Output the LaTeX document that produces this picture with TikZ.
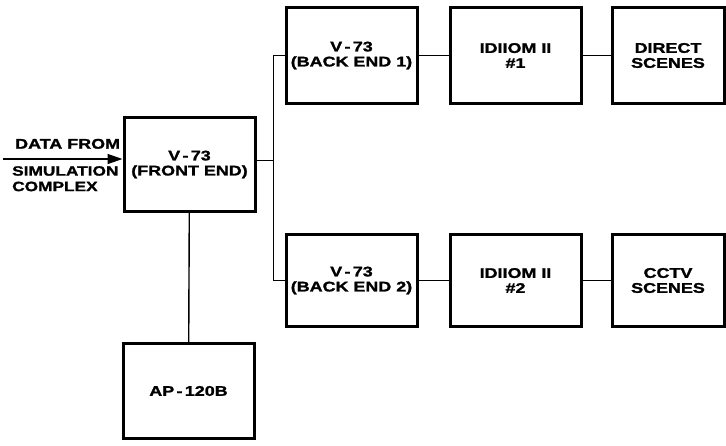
\documentclass[tikz,border=0pt]{standalone}
\usepackage{fontspec}
\setmainfont{Liberation Sans}[FakeStretch=1.28,FakeBold=1.5]
\usetikzlibrary{positioning,arrows.meta}

\begin{document}
\begin{tikzpicture}[
  x=1pt, y=-1pt,
  font=\bfseries\fontsize{14}{15}\selectfont,
  node distance=30pt,
  box/.style={draw, line width=3pt, align=center, minimum width=131pt,
              minimum height=95pt, inner sep=2pt},
  wide/.style={box, minimum width=112pt},
  line/.style={line width=1.4pt},
  arr/.style={-{Triangle[length=15pt,width=10pt]}, line width=1.4pt},
  lbl/.style={align=left, inner sep=0pt}
]
\useasboundingbox (0,0) rectangle (726,445);
\node[box, minimum height=94pt] (front) at (189.5,164.5) {V\,-\,73\\(FRONT END)};
\node[box] (ap) at (188.5,391) {AP\,-\,120B};

\node[box, minimum height=96pt] (back1) at (351.5,55.5) {V\,-\,73\\(BACK END 1)};
\node[box, minimum height=96pt, right=of back1] (idiiom1) {IDIIOM II\\\#1};
\node[wide, minimum height=96pt, right=28pt of idiiom1] (direct) {DIRECT\\SCENES};

\node[box, minimum height=92pt] (back2) at (351.5,280.5) {V\,-\,73\\(BACK END 2)};
\node[box, minimum height=92pt, right=of back2] (idiiom2) {IDIIOM II\\\#2};
\node[wide, minimum height=92pt, right=28pt of idiiom2] (cctv) {CCTV\\SCENES};

% links
\coordinate (split) at ([xshift=17pt,yshift=4pt]front.east);
\draw[line] ([yshift=4pt]front.east) -- (split);
\draw[line] (split) |- (back1.west);
\draw[line] (split) |- (back2.west);
\draw[line] (back1) -- (idiiom1);
\draw[line] (idiiom1) -- (direct);
\draw[line] (back2) -- (idiiom2);
\draw[line] (idiiom2) -- (cctv);
\draw[line] (front) -- (ap);

% input
\coordinate (src) at (3,159);
\draw[arr] (src) -- (front.west |- src);
\node[lbl, anchor=south west] (datafrom) at (15,149) {DATA FROM};
\node[lbl, anchor=north west, font=\bfseries\fontsize{13.5}{15.5}\selectfont] (simc) at (12,166) {SIMULATION\\COMPLEX};
\end{tikzpicture}
\end{document}
